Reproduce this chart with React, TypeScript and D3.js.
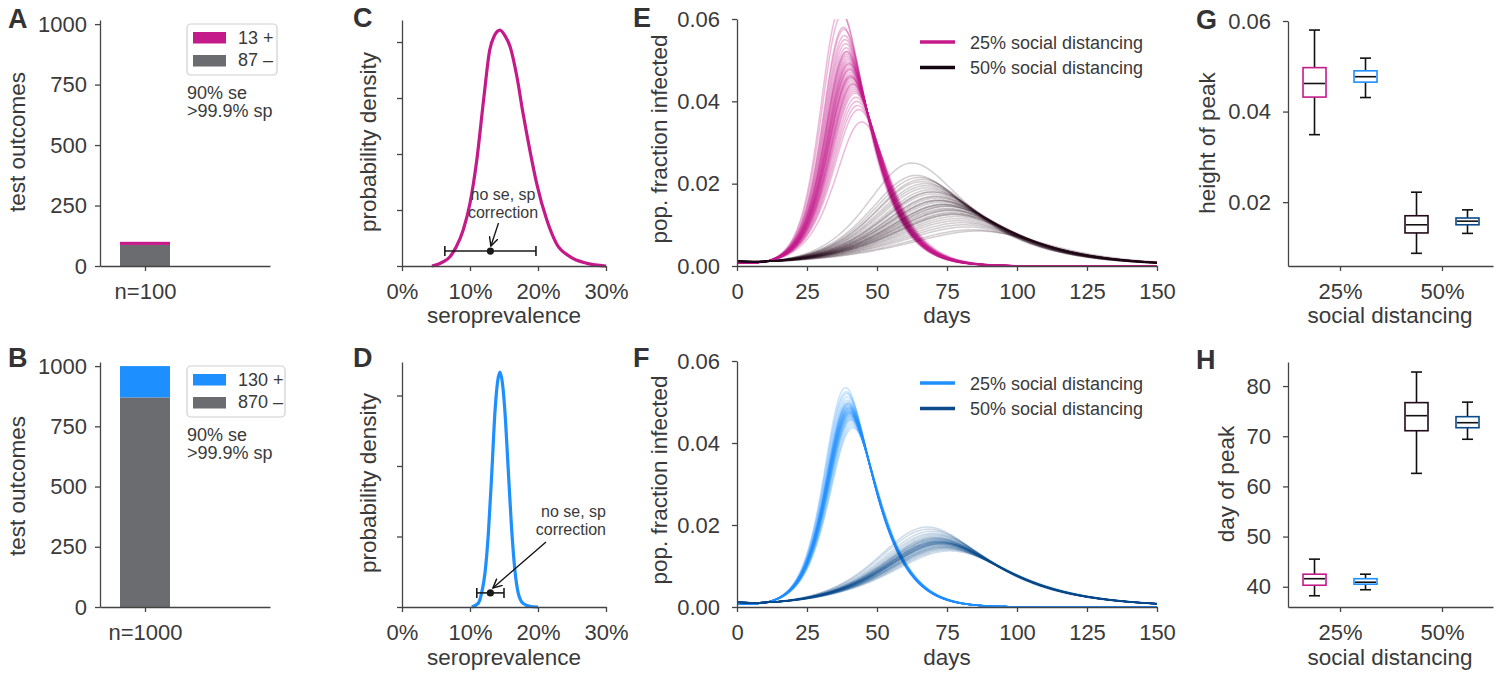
import React, { useEffect, useRef } from "react";
import * as d3 from "d3";

const FONT = "'Liberation Sans', Arial, Helvetica, sans-serif";
const TEXT = "#3a3a3a";
const AXIS = "#444444";
const MAGENTA = "#c51b8a";
const GRAY = "#6b6c70";
const BLUE = "#1e8fff";
const DARK = "#230a19";
const NAVY = "#0c4a8b";

// ---------- Panels A / B : test outcomes ----------
const sampleA = ["n=100"];
const positiveA = [13];
const negativeA = [87];
const sampleB = ["n=1000"];
const positiveB = [130];
const negativeB = [870];
const countTicks = [0, 250, 500, 750, 1000];
const testNote = ["90% se", ">99.9% sp"];

// ---------- Panels C / D : posterior densities ----------
const seroC = [0.044, 0.061, 0.0706, 0.08, 0.09, 0.1, 0.11, 0.12, 0.129, 0.136, 0.144, 0.152, 0.159, 0.169, 0.178, 0.188, 0.198, 0.213, 0.227, 0.247, 0.272, 0.3];
const densityC = [0, 0.23, 0.5, 1.04, 1.93, 3.36, 5.68, 8.9, 11.57, 12.35, 12.64, 12.3, 11.75, 10.14, 8.18, 6.21, 4.43, 2.46, 1.21, 0.5, 0.14, 0];
const seroD = [0.1025, 0.112, 0.117, 0.122, 0.127, 0.132, 0.137, 0.1405, 0.144, 0.1475, 0.151, 0.156, 0.161, 0.166, 0.171, 0.178, 0.188, 0.2];
const densityD = [0, 0.52, 1.94, 4.78, 10.45, 18.96, 28.1, 31.9, 33.3, 31.9, 28.2, 19.9, 11.4, 5.25, 1.94, 0.52, 0.1, 0];
const errC = [0.063, 0.13, 0.197]; // low, estimate, high
const errD = [0.11, 0.13, 0.15];
const errYC = 0.8;
const errYD = 2.0;
const seroTicks = [0, 0.1, 0.2, 0.3];
const densTicksC = [0, 3, 6, 9, 12];
const densTicksD = [0, 10, 20, 30];
const noteLines = ["no se, sp", "correction"];

// ---------- Panels E / F : epidemic trajectories (peak height, peak day per run) ----------
const peakH25E = [0.0625, 0.061, 0.058, 0.0575, 0.056, 0.055, 0.054, 0.053, 0.052, 0.0515, 0.051, 0.0505, 0.05, 0.0495, 0.049, 0.0485, 0.048, 0.0475, 0.047, 0.0465, 0.046, 0.0458, 0.0455, 0.045, 0.0445, 0.044, 0.0435, 0.043, 0.0425, 0.042, 0.041, 0.04, 0.039, 0.038, 0.035, 0.0478, 0.0462, 0.0442, 0.0492, 0.0522];
const peakD25E = [37, 37.5, 38, 38.2, 38.4, 38.6, 38.8, 39, 39.2, 39.3, 39.4, 39.6, 39.7, 39.8, 40, 40.1, 40.2, 40.3, 40.5, 40.6, 40.7, 40.8, 41, 41.1, 41.3, 41.5, 41.6, 41.8, 42, 42.2, 42.5, 42.8, 43.1, 43.5, 44.6, 40.3, 40.6, 41.4, 40, 39.2];
const peakH50E = [0.025, 0.022, 0.0215, 0.021, 0.0205, 0.02, 0.0195, 0.019, 0.0185, 0.018, 0.0175, 0.017, 0.0168, 0.0165, 0.016, 0.0158, 0.0155, 0.015, 0.015, 0.0148, 0.0145, 0.014, 0.0138, 0.0135, 0.013, 0.0128, 0.0125, 0.012, 0.0115, 0.011, 0.0105, 0.01, 0.0095, 0.0088, 0.0085, 0.016, 0.0145, 0.0135, 0.018, 0.0125];
const peakD50E = [62.5, 64, 65, 66, 66, 67, 67.5, 68, 69, 69.5, 70, 71, 71, 71.5, 72, 72.5, 73, 73.5, 74, 74, 74.5, 75, 75.5, 76, 76.5, 77, 77, 78, 78.5, 79, 80, 81, 82, 84, 86, 72, 75, 76, 70, 77.5];
const peakH25F = [0.0535, 0.0525, 0.052, 0.0512, 0.0505, 0.05, 0.0497, 0.0494, 0.049, 0.0487, 0.0484, 0.0481, 0.0479, 0.0477, 0.0475, 0.0473, 0.047, 0.0468, 0.0465, 0.0462, 0.046, 0.0456, 0.0452, 0.0447, 0.0442, 0.0437, 0.0478, 0.0483, 0.0471, 0.049, 0.0466, 0.0458, 0.0495, 0.0486, 0.0474];
const peakD25F = [38.8, 39, 39.2, 39.4, 39.5, 39.6, 39.7, 39.7, 39.8, 39.9, 39.9, 40, 40, 40.1, 40.1, 40.2, 40.2, 40.3, 40.4, 40.5, 40.5, 40.7, 40.8, 41, 41.2, 41.4, 40.1, 39.9, 40.2, 39.8, 40.4, 40.6, 39.7, 40, 40.2];
const peakH50F = [0.0195, 0.019, 0.0185, 0.018, 0.0177, 0.0174, 0.0171, 0.0168, 0.0166, 0.0164, 0.0162, 0.016, 0.0159, 0.0158, 0.0157, 0.0156, 0.0155, 0.0154, 0.0152, 0.015, 0.0148, 0.0146, 0.0144, 0.0142, 0.014, 0.0137, 0.0158, 0.0162, 0.0153, 0.0166, 0.0149, 0.016, 0.0155, 0.0145, 0.0169];
const peakD50F = [68, 68.5, 69.5, 70, 70.5, 71, 71, 71.5, 71.5, 72, 72, 72, 72.5, 72.5, 72.5, 73, 73, 73, 73.5, 73.5, 74, 74, 74.5, 75, 75.5, 76, 72.5, 72, 73, 71.5, 74, 72, 73, 74.5, 71];
const decay25 = 0.085;
const bend25 = 0.0006;
const decay50 = 0.046;
const bend50 = 0;
const onsetLevel = 0.0009;
const dayTicks = [0, 25, 50, 75, 100, 125, 150];
const fracTicks = [0, 0.02, 0.04, 0.06];
const legendLabels = ["25% social distancing", "50% social distancing"];

// ---------- Panels G / H : peak summaries (whisker low, q1, median, q3, whisker high) ----------
const distancing = ["25%", "50%"];
const heightPink = [0.0349, 0.0432, 0.0462, 0.0497, 0.058];
const heightBlue = [0.0431, 0.0465, 0.0477, 0.049, 0.0518];
const heightDark = [0.0087, 0.0132, 0.015, 0.017, 0.0222];
const heightNavy = [0.0131, 0.015, 0.0158, 0.0165, 0.0183];
const dayPink = [38.2, 40.3, 41.6, 42.5, 45.5];
const dayBlue = [39.4, 40.5, 40.9, 41.6, 42.5];
const dayDark = [62.6, 71.1, 74.1, 76.7, 82.8];
const dayNavy = [69.4, 71.7, 72.7, 73.9, 76.8];
const heightTicks = [0.02, 0.04, 0.06];
const peakDayTicks = [40, 50, 60, 70, 80];

const DAYS = d3.range(0, 150.25, 0.5);
function trajectory(h: number, tp: number, b: number, bend: number): [number, number][] {
  let a = 0.1;
  for (let i = 0; i < 10; i++) a = Math.log((h * (a + b)) / (b * onsetLevel)) / (tp - 10);
  return DAYS.map((t) => {
    const x = t - tp;
    const core = (h * (a + b)) / (b * Math.exp(-a * x) + a * Math.exp(b * x));
    const v = core * (x > 0 ? Math.exp(-bend * x * x) : 1) + 0.0007 * Math.exp(-t / 8);
    return [t, v];
  });
}

function Axis(props: any) {
  const { orient, scale, x = 0, y = 0, ticks, format, padding = 8, size = 5 } = props;
  const ref = useRef<SVGGElement>(null);
  useEffect(() => {
    const gen = orient === "left" ? d3.axisLeft(scale) : d3.axisBottom(scale);
    gen.tickValues(ticks).tickSizeOuter(0).tickSizeInner(size).tickPadding(padding);
    if (format) gen.tickFormat(format);
    const g = d3.select(ref.current as SVGGElement);
    g.call(gen as any);
    g.attr("font-family", FONT).attr("font-size", 22);
    g.select(".domain").attr("stroke", AXIS).attr("stroke-width", 1.3);
    g.selectAll(".tick line").attr("stroke", AXIS).attr("stroke-width", 1.3);
    g.selectAll(".tick text").attr("fill", TEXT);
  }, []);
  return <g ref={ref} transform={`translate(${x},${y})`} />;
}

function YLabel({ x, y, text }: any) {
  return (
    <text transform={`translate(${x},${y}) rotate(-90)`} textAnchor="middle" fontSize={22.5} fill={TEXT}>
      {text}
    </text>
  );
}

function XLabel({ x, y, text }: any) {
  return (
    <text x={x} y={y} textAnchor="middle" fontSize={22.5} fill={TEXT}>
      {text}
    </text>
  );
}

function Letter({ x, y, t }: any) {
  return (
    <text x={x} y={y} fontSize={27} fontWeight="bold" fill="#333">
      {t}
    </text>
  );
}

function BarPanel({ top, bottom, label, pos, neg, posColor, legendW }: any) {
  const x = d3.scaleLinear().domain([-0.72, 2.0]).range([100, 270]);
  const y = d3.scaleLinear().domain([0, 1017]).range([bottom, top]);
  const bw = x(0.4) - x(-0.4);
  const ly = top + 4;
  return (
    <g>
      <rect x={x(-0.4)} y={y(neg[0])} width={bw} height={y(0) - y(neg[0])} fill={GRAY} />
      <rect x={x(-0.4)} y={y(neg[0] + pos[0])} width={bw} height={y(neg[0]) - y(neg[0] + pos[0])} fill={posColor} />
      <rect x={187} y={ly} width={legendW} height={51} rx={4} fill="white" stroke="#cfcfcf" strokeWidth={1.2} />
      <rect x={193} y={ly + 8} width={33} height={11.5} fill={posColor} />
      <rect x={193} y={ly + 31} width={33} height={11.5} fill={GRAY} />
      <text x={238} y={ly + 19.5} fontSize={18} fill={TEXT}>{`${pos[0]} +`}</text>
      <text x={238} y={ly + 42} fontSize={18} fill={TEXT}>{`${neg[0]} \u2013`}</text>
      <text x={187} y={ly + 75} fontSize={18} fill={TEXT}>{testNote[0]}</text>
      <text x={187} y={ly + 93} fontSize={18} fill={TEXT}>{testNote[1]}</text>
      <Axis orient="left" scale={y} x={100} ticks={countTicks} format={d3.format("d")} padding={8} />
      <Axis orient="bottom" scale={x} y={bottom} ticks={[0]} format={() => label[0]} padding={12} />
    </g>
  );
}

function DensityPanel({ top, bottom, sero, dens, yMax, yTicks, color, err, errY, noteMode }: any) {
  const x = d3.scaleLinear().domain([0, 0.3]).range([402, 606]);
  const y = d3.scaleLinear().domain([0, yMax]).range([bottom, top]);
  const line = d3
    .line<number>()
    .x((_, i) => x(sero[i]))
    .y((d) => y(d))
    .curve(d3.curveMonotoneX);
  const ey = y(errY);
  return (
    <g>
      <path d={line(dens) || ""} fill="none" stroke={color} strokeWidth={3.2} />
      <g stroke="#1a1a1a" strokeWidth={1.6}>
        <line x1={x(err[0])} x2={x(err[2])} y1={ey} y2={ey} />
        <line x1={x(err[0])} x2={x(err[0])} y1={ey - 5} y2={ey + 5} />
        <line x1={x(err[2])} x2={x(err[2])} y1={ey - 5} y2={ey + 5} />
      </g>
      <circle cx={x(err[1])} cy={ey} r={3.6} fill="#1a1a1a" />
      {noteMode === "C" ? (
        <g>
          <text x={503} y={200} textAnchor="middle" fontSize={16} fill={TEXT}>{noteLines[0]}</text>
          <text x={503} y={218} textAnchor="middle" fontSize={16} fill={TEXT}>{noteLines[1]}</text>
          <line x1={498.5} y1={223} x2={x(err[1]) + 0.5} y2={ey - 5} stroke="#111" strokeWidth={1.3} markerEnd="url(#arrowHead)" />
        </g>
      ) : (
        <g>
          <text x={606} y={517} textAnchor="end" fontSize={16} fill={TEXT}>{noteLines[0]}</text>
          <text x={606} y={535} textAnchor="end" fontSize={16} fill={TEXT}>{noteLines[1]}</text>
          <line x1={546} y1={542} x2={x(err[1]) + 2.5} y2={ey - 5} stroke="#111" strokeWidth={1.3} markerEnd="url(#arrowHead)" />
        </g>
      )}
      <Axis orient="left" scale={y} x={402} ticks={yTicks} format={() => ""} padding={8} />
      <Axis orient="bottom" scale={x} y={bottom} ticks={seroTicks} format={d3.format(".0%")} padding={12} />
    </g>
  );
}

function EpiPanel({ top, bottom, id, runsA, runsB, colA, colB, opA, opB, legendY }: any) {
  const x = d3.scaleLinear().domain([0, 150]).range([737, 1157]);
  const y = d3.scaleLinear().domain([0, 0.06]).range([bottom, top]);
  const line = d3
    .line<[number, number]>()
    .x((d) => x(d[0]))
    .y((d) => y(d[1]));
  return (
    <g>
      <clipPath id={id}>
        <rect x={737} y={top} width={425} height={bottom - top + 2} />
      </clipPath>
      <g clipPath={`url(#${id})`} fill="none">
        {runsA[0].map((h: number, i: number) => (
          <path key={"a" + i} d={line(trajectory(h, runsA[1][i], decay25, bend25)) || ""} stroke={colA} strokeOpacity={opA} strokeWidth={1.5} />
        ))}
        {runsB[0].map((h: number, i: number) => (
          <path key={"b" + i} d={line(trajectory(h, runsB[1][i], decay50, bend50)) || ""} stroke={colB} strokeOpacity={opB} strokeWidth={1.5} />
        ))}
      </g>
      <line x1={920} x2={955} y1={legendY} y2={legendY} stroke={colA} strokeWidth={3.5} />
      <line x1={920} x2={955} y1={legendY + 25.5} y2={legendY + 25.5} stroke={colB === DARK ? "#140610" : colB} strokeWidth={3.5} />
      <text x={970} y={legendY + 6.5} fontSize={18} fill={TEXT}>{legendLabels[0]}</text>
      <text x={970} y={legendY + 32} fontSize={18} fill={TEXT}>{legendLabels[1]}</text>
      <Axis orient="left" scale={y} x={737} ticks={fracTicks} format={d3.format(".2f")} padding={12} />
      <Axis orient="bottom" scale={x} y={bottom} ticks={dayTicks} padding={12} />
    </g>
  );
}

function Box({ cx, y, stats, color }: any) {
  const [lo, q1, med, q3, hi] = stats;
  const w = 23;
  const cap = 11;
  return (
    <g strokeWidth={1.6}>
      <line x1={cx} x2={cx} y1={y(hi)} y2={y(lo)} stroke="#111" />
      <line x1={cx - cap / 2} x2={cx + cap / 2} y1={y(hi)} y2={y(hi)} stroke="#111" />
      <line x1={cx - cap / 2} x2={cx + cap / 2} y1={y(lo)} y2={y(lo)} stroke="#111" />
      <rect x={cx - w / 2} y={y(q3)} width={w} height={y(q1) - y(q3)} fill="white" stroke={color} />
      <line x1={cx - w / 2 + 1} x2={cx + w / 2 - 1} y1={y(med)} y2={y(med)} stroke="#111" />
    </g>
  );
}

function SummaryPanel({ top, bottom, domain, ticks, fmt, groups }: any) {
  const x = d3.scaleLinear().domain([-0.51, 1.5]).range([1288, 1493]);
  const y = d3.scaleLinear().domain(domain).range([bottom, top]);
  const off = 0.25;
  return (
    <g>
      <Box cx={x(0 - off)} y={y} stats={groups[0]} color={MAGENTA} />
      <Box cx={x(0 + off)} y={y} stats={groups[1]} color={BLUE} />
      <Box cx={x(1 - off)} y={y} stats={groups[2]} color={DARK} />
      <Box cx={x(1 + off)} y={y} stats={groups[3]} color={NAVY} />
      <Axis orient="left" scale={y} x={1288} ticks={ticks} format={fmt} padding={12} />
      <Axis orient="bottom" scale={x} y={bottom} ticks={[0, 1]} format={(d: number) => distancing[d]} padding={12} />
    </g>
  );
}

export default function App() {
  return (
    <svg
      width={1500}
      height={680}
      style={{ position: "absolute", left: 0, top: 0, background: "white" }}
      fontFamily={FONT}
    >
      <defs>
        <marker id="arrowHead" viewBox="0 0 10 10" refX={9} refY={5} markerWidth={10} markerHeight={10} markerUnits="userSpaceOnUse" orient="auto">
          <path d="M0,0.5 L9,5 L0,9.5" fill="none" stroke="#111" strokeWidth={1.4} />
        </marker>
      </defs>
      <rect width={1500} height={680} fill="white" />

      {/* A and B */}
      <BarPanel top={20} bottom={266} label={sampleA} pos={positiveA} neg={negativeA} posColor={MAGENTA} legendW={90} />
      <BarPanel top={362} bottom={607} label={sampleB} pos={positiveB} neg={negativeB} posColor={BLUE} legendW={98} />
      <YLabel x={25} y={142} text="test outcomes" />
      <YLabel x={25} y={486} text="test outcomes" />

      {/* C and D */}
      <DensityPanel top={20} bottom={266} sero={seroC} dens={densityC} yMax={13.18} yTicks={densTicksC} color={MAGENTA} err={errC} errY={errYC} noteMode="C" />
      <DensityPanel top={362} bottom={607} sero={seroD} dens={densityD} yMax={34.75} yTicks={densTicksD} color={BLUE} err={errD} errY={errYD} noteMode="D" />
      <YLabel x={376} y={142} text="probability density" />
      <YLabel x={376} y={483} text="probability density" />
      <XLabel x={504} y={323} text="seroprevalence" />
      <XLabel x={504} y={665} text="seroprevalence" />

      {/* E and F */}
      <EpiPanel top={19} bottom={266} id="clipE" runsA={[peakH25E, peakD25E]} runsB={[peakH50E, peakD50E]} colA={MAGENTA} colB={DARK} opA={0.3} opB={0.2} legendY={42} />
      <EpiPanel top={361} bottom={607} id="clipF" runsA={[peakH25F, peakD25F]} runsB={[peakH50F, peakD50F]} colA={BLUE} colB={NAVY} opA={0.25} opB={0.2} legendY={383} />
      <YLabel x={667} y={139} text="pop. fraction infected" />
      <YLabel x={667} y={480} text="pop. fraction infected" />
      <XLabel x={947} y={323} text="days" />
      <XLabel x={947} y={665} text="days" />

      {/* G and H */}
      <SummaryPanel top={21} bottom={266} domain={[0.0059, 0.06]} ticks={heightTicks} fmt={d3.format(".2f")} groups={[heightPink, heightBlue, heightDark, heightNavy]} />
      <SummaryPanel top={362} bottom={607} domain={[35.96, 84.8]} ticks={peakDayTicks} fmt={d3.format("d")} groups={[dayPink, dayBlue, dayDark, dayNavy]} />
      <YLabel x={1215} y={143} text="height of peak" />
      <YLabel x={1234} y={484} text="day of peak" />
      <XLabel x={1390} y={323} text="social distancing" />
      <XLabel x={1390} y={665} text="social distancing" />

      <Letter x={8} y={28} t="A" />
      <Letter x={8} y={367} t="B" />
      <Letter x={353} y={27} t="C" />
      <Letter x={353} y={367} t="D" />
      <Letter x={633} y={27} t="E" />
      <Letter x={633} y={367} t="F" />
      <Letter x={1196} y={29} t="G" />
      <Letter x={1196} y={369} t="H" />
    </svg>
  );
}
